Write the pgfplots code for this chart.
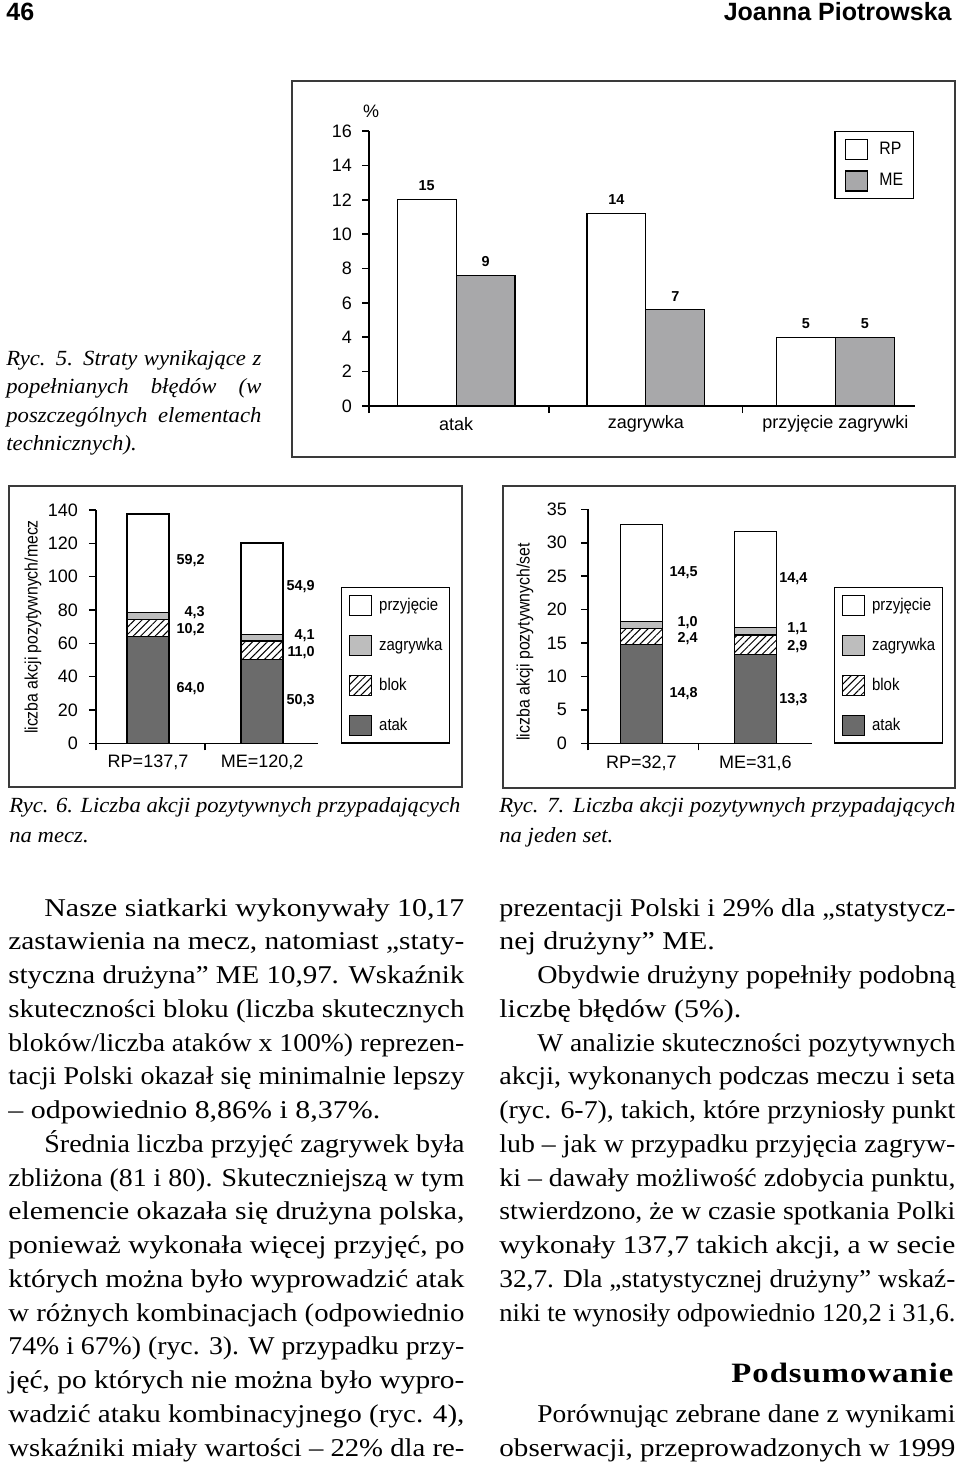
\documentclass[border=0pt]{standalone}
\usepackage{fontspec}
\setmainfont[FakeStretch=1.17]{Liberation Serif}
\newfontfamily\cf{Liberation Sans}
\newfontfamily\cfn[FakeStretch=0.88]{Liberation Sans}
\newfontfamily\capf[FakeStretch=1.05]{Liberation Serif}
\usepackage{graphicx}
\usepackage{pgfplots}
\pgfplotsset{compat=1.18}
\usetikzlibrary{patterns.meta}

\definecolor{dk}{HTML}{6B6B6B}
\definecolor{lt}{HTML}{BDBDBD}
\definecolor{me}{HTML}{A8A8AA}
\definecolor{frm}{HTML}{3A3A3A}

% one justified line: squeeze if too long, stretch spaces if short
\newlength\jlw
\newcommand\jl[2]{\settowidth\jlw{#2}\ifdim\jlw>#1\relax\resizebox{#1}{\height}{#2}\else\makebox[#1][s]{#2}\fi}
\newcommand\bfont{\fontsize{12.8}{16}\selectfont}
\newcommand\cfont{\capf\itshape\fontsize{10.8}{12}\selectfont}
\newcommand\vlab{\cf\bfseries\fontsize{7.2}{8}\selectfont}

\pgfplotsset{
  pageaxis/.style={
    scale only axis, anchor=south west,
    axis lines=left, axis line style={-, line width=0.8pt},
    tick align=outside, major tick length=3.5pt,
    tick style={black, line width=0.8pt},
    /pgf/number format/assume math mode=true,
    tick label style={font=\cf\fontsize{9}{10}\selectfont},
    xticklabels={},
    extra x tick style={major tick length=0pt},
    legend cell align=left,
  },
  sqlegend/.style={legend image code/.code={\draw[##1] (0pt,-5pt) rectangle (11pt,5pt);}},
  bars/.style={draw=black, line width=0.7pt},
  hatch/.style={bars, fill=white, postaction={pattern={Lines[angle=45,distance=2.6pt,line width=0.5pt]}}},
  stacklegend/.style={
    legend style={at={(#1)}, anchor=north west, draw=black, line width=0.7pt,
      inner xsep=3.5pt, inner ysep=3.5pt, row sep=9.3pt,
      font=\cfn\fontsize{8.5}{10}\selectfont, nodes={inner sep=0pt},
      /tikz/every odd column/.append style={column sep=3.5pt}}},
}

\begin{document}
\begin{tikzpicture}
\useasboundingbox (0,0) rectangle (480pt,-734pt);

% ---------- Ryc. 5 ----------
\begin{axis}[pageaxis,
  at={(184.5pt,-203pt)}, width=273pt, height=137.5pt,
  xmin=-0.46, xmax=2.42, ymin=0, ymax=16,
  ytick={0,2,...,16},
  xtick={-0.46,0.49,1.51},
  extra x ticks={0,1,2},
  extra x tick labels={atak,zagrywka,przyjęcie zagrywki},
  xticklabel style={anchor=center, yshift=-9pt},
  yticklabel style={xshift=-1.5pt},
  ybar, bar width=0.311, sqlegend,
  nodes near coords, point meta=explicit symbolic,
  nodes near coords style={font=\vlab, anchor=south, inner sep=0pt, yshift=4pt},
  legend style={at={(0.998,1)}, anchor=north east, draw=black, line width=0.7pt,
    inner xsep=5pt, inner ysep=3.5pt, row sep=5pt,
    font=\cfn\fontsize{9}{10}\selectfont, nodes={inner sep=0pt},
    /tikz/every odd column/.append style={column sep=5.5pt}},
]
\addplot[bars, fill=white, bar shift=-0.1555] coordinates {(0,12.0)[15] (1,11.2)[14] (2,4.0)[5]};
\addplot[bars, fill=me, bar shift=0.1555] coordinates {(0,7.6)[9] (1,5.6)[7] (2,4.0)[5]};
\legend{RP,ME}
\end{axis}

% ---------- Ryc. 6 ----------
\begin{axis}[pageaxis,
  at={(48pt,-371.65pt)}, width=111pt, height=116.65pt,
  xmin=-0.456, xmax=1.49, ymin=0, ymax=140,
  ytick={0,20,...,140},
  xtick={-0.456,0.5},
  extra x ticks={0,1}, extra x tick labels={{RP=137,7},{ME=120,2}},
  xticklabel style={anchor=center, yshift=-9.35pt},
  yticklabel style={xshift=-2pt},
  ylabel={liczba akcji pozytywnych/mecz},
  ylabel style={at={(axis description cs:-0.284,0.4985)}, anchor=center, font=\cfn\fontsize{9}{10}\selectfont},
  ybar stacked, bar width=0.368, sqlegend,
  reverse legend, stacklegend={1.104,0.67},
]
\addplot[bars, fill=dk] coordinates {(0,64.0) (1,50.3)};
\addplot[hatch] coordinates {(0,10.2) (1,11.0)};
\addplot[bars, fill=lt] coordinates {(0,4.3) (1,4.1)};
\addplot[bars, fill=white] coordinates {(0,59.2) (1,54.9)};
\legend{atak,blok,zagrywka,przyjęcie}
\node[anchor=east, inner sep=0pt, font=\vlab] at (axis cs:0.5,109.4) {59,2};
\node[anchor=east, inner sep=0pt, font=\vlab] at (axis cs:0.5,78.2) {4,3};
\node[anchor=east, inner sep=0pt, font=\vlab] at (axis cs:0.5,68.0) {10,2};
\node[anchor=east, inner sep=0pt, font=\vlab] at (axis cs:0.5,32.6) {64,0};
\node[anchor=east, inner sep=0pt, font=\vlab] at (axis cs:1.465,93.8) {54,9};
\node[anchor=east, inner sep=0pt, font=\vlab] at (axis cs:1.465,64.4) {4,1};
\node[anchor=east, inner sep=0pt, font=\vlab] at (axis cs:1.465,54.2) {11,0};
\node[anchor=east, inner sep=0pt, font=\vlab] at (axis cs:1.465,25.4) {50,3};
\end{axis}

% ---------- Ryc. 7 ----------
\begin{axis}[pageaxis,
  at={(294pt,-371.65pt)}, width=112pt, height=117pt,
  xmin=-0.469, xmax=1.496, ymin=0, ymax=35,
  ytick={0,5,...,35},
  xtick={-0.469,0.5},
  extra x ticks={0,1}, extra x tick labels={{RP=32,7},{ME=31,6}},
  xticklabel style={anchor=center, yshift=-9.8pt},
  yticklabel style={xshift=-3.5pt},
  ylabel={liczba akcji pozytywnych/set},
  ylabel style={at={(axis description cs:-0.281,0.433)}, anchor=center, font=\cfn\fontsize{9}{10}\selectfont},
  ybar stacked, bar width=0.368, sqlegend,
  reverse legend, stacklegend={1.098,0.668},
]
\addplot[bars, fill=dk] coordinates {(0,14.8) (1,13.3)};
\addplot[hatch] coordinates {(0,2.4) (1,2.9)};
\addplot[bars, fill=lt] coordinates {(0,1.0) (1,1.1)};
\addplot[bars, fill=white] coordinates {(0,14.5) (1,14.4)};
\legend{atak,blok,zagrywka,przyjęcie}
\node[anchor=east, inner sep=0pt, font=\vlab] at (axis cs:0.496,25.6) {14,5};
\node[anchor=east, inner sep=0pt, font=\vlab] at (axis cs:0.496,18.0) {1,0};
\node[anchor=east, inner sep=0pt, font=\vlab] at (axis cs:0.496,15.6) {2,4};
\node[anchor=east, inner sep=0pt, font=\vlab] at (axis cs:0.496,7.5) {14,8};
\node[anchor=east, inner sep=0pt, font=\vlab] at (axis cs:1.46,24.6) {14,4};
\node[anchor=east, inner sep=0pt, font=\vlab] at (axis cs:1.46,17.1) {1,1};
\node[anchor=east, inner sep=0pt, font=\vlab] at (axis cs:1.46,14.4) {2,9};
\node[anchor=east, inner sep=0pt, font=\vlab] at (axis cs:1.46,6.6) {13,3};
\end{axis}

% ---------- page furniture, in pixel units ----------
\begin{scope}[x=0.5pt, y=-0.5pt]
\draw[frm, line width=1.1pt] (292,81) rectangle (955,457);
\draw[frm, line width=1.1pt] (9,486) rectangle (462,787);
\draw[frm, line width=1.1pt] (503,486) rectangle (955,788);
\node[font=\cf\fontsize{9}{10}\selectfont, inner sep=0pt] at (371,111.5) {\%};

\node[anchor=base west, inner sep=0pt, font=\cf\bfseries\fontsize{12.5}{14}\selectfont] at (6,20) {46};
\node[anchor=base east, inner sep=0pt, font=\cf\bfseries\fontsize{12.5}{14}\selectfont] at (952,20) {Joanna Piotrowska};

\begin{scope}[every node/.style={anchor=base west, inner sep=0pt, font=\cfont}]
\node at (6,365) {\jl{127.5pt}{Ryc. 5. Straty wynikające z}};
\node at (6,393.5) {\jl{127.5pt}{popełnianych błędów (w}};
\node at (6,422) {\jl{127.5pt}{poszczególnych elementach}};
\node at (6,450.5) {technicznych).};
\node at (9,812) {\jl{225.5pt}{Ryc. 6. Liczba akcji pozytywnych przypadających}};
\node at (9,842) {na mecz.};
\node at (499,812) {\jl{228pt}{Ryc. 7. Liczba akcji pozytywnych przypadających}};
\node at (499,842) {na jeden set.};
\end{scope}

\begin{scope}[every node/.style={anchor=base west, inner sep=0pt, font=\bfont}]
\node at (44,916) {\jl{210pt}{Nasze siatkarki wykonywały 10,17}};
\node at (8,949.75) {\jl{228pt}{zastawienia na mecz, natomiast „staty-}};
\node at (8,983.5) {\jl{228pt}{styczna drużyna” ME 10,97. Wskaźnik}};
\node at (8,1017.25) {\jl{228pt}{skuteczności bloku (liczba skutecznych}};
\node at (8,1051) {\jl{228pt}{bloków/liczba ataków x 100\%) reprezen-}};
\node at (8,1084.75) {\jl{228pt}{tacji Polski okazał się minimalnie lepszy}};
\node at (8,1118.5) {– odpowiednio 8,86\% i 8,37\%.};
\node at (44,1152.25) {\jl{210pt}{Średnia liczba przyjęć zagrywek była}};
\node at (8,1186) {\jl{228pt}{zbliżona (81 i 80). Skuteczniejszą w tym}};
\node at (8,1219.75) {\jl{228pt}{elemencie okazała się drużyna polska,}};
\node at (8,1253.5) {\jl{228pt}{ponieważ wykonała więcej przyjęć, po}};
\node at (8,1287.25) {\jl{228pt}{których można było wyprowadzić atak}};
\node at (8,1321) {\jl{228pt}{w różnych kombinacjach (odpowiednio}};
\node at (8,1354.75) {\jl{228pt}{74\% i 67\%) (ryc. 3). W przypadku przy-}};
\node at (8,1388.5) {\jl{228pt}{jęć, po których nie można było wypro-}};
\node at (8,1422.25) {\jl{228pt}{wadzić ataku kombinacyjnego (ryc. 4),}};
\node at (8,1456) {\jl{228pt}{wskaźniki miały wartości – 22\% dla re-}};

\node at (499,916) {\jl{228pt}{prezentacji Polski i 29\% dla „statystycz-}};
\node at (499,949.75) {nej drużyny” ME.};
\node at (537,983.5) {\jl{209pt}{Obydwie drużyny popełniły podobną}};
\node at (499,1017.25) {liczbę błędów (5\%).};
\node at (537,1051) {\jl{209pt}{W analizie skuteczności pozytywnych}};
\node at (499,1084.75) {\jl{228pt}{akcji, wykonanych podczas meczu i seta}};
\node at (499,1118.5) {\jl{228pt}{(ryc. 6-7), takich, które przyniosły punkt}};
\node at (499,1152.25) {\jl{228pt}{lub – jak w przypadku przyjęcia zagryw-}};
\node at (499,1186) {\jl{228pt}{ki – dawały możliwość zdobycia punktu,}};
\node at (499,1219.75) {\jl{228pt}{stwierdzono, że w czasie spotkania Polki}};
\node at (499,1253.5) {\jl{228pt}{wykonały 137,7 takich akcji, a w secie}};
\node at (499,1287.25) {\jl{228pt}{32,7. Dla „statystycznej drużyny” wskaź-}};
\node at (499,1321) {\jl{228pt}{niki te wynosiły odpowiednio 120,2 i 31,6.}};
\node[font=\bfseries\fontsize{14}{16}\selectfont] at (731,1382) {\makebox[111pt][s]{P\hfill o\hfill d\hfill s\hfill u\hfill m\hfill o\hfill w\hfill a\hfill n\hfill i\hfill e}};
\node at (537,1422.25) {\jl{209pt}{Porównując zebrane dane z wynikami}};
\node at (499,1456) {\jl{228pt}{obserwacji, przeprowadzonych w 1999}};
\end{scope}
\end{scope}
\end{tikzpicture}
\end{document}
